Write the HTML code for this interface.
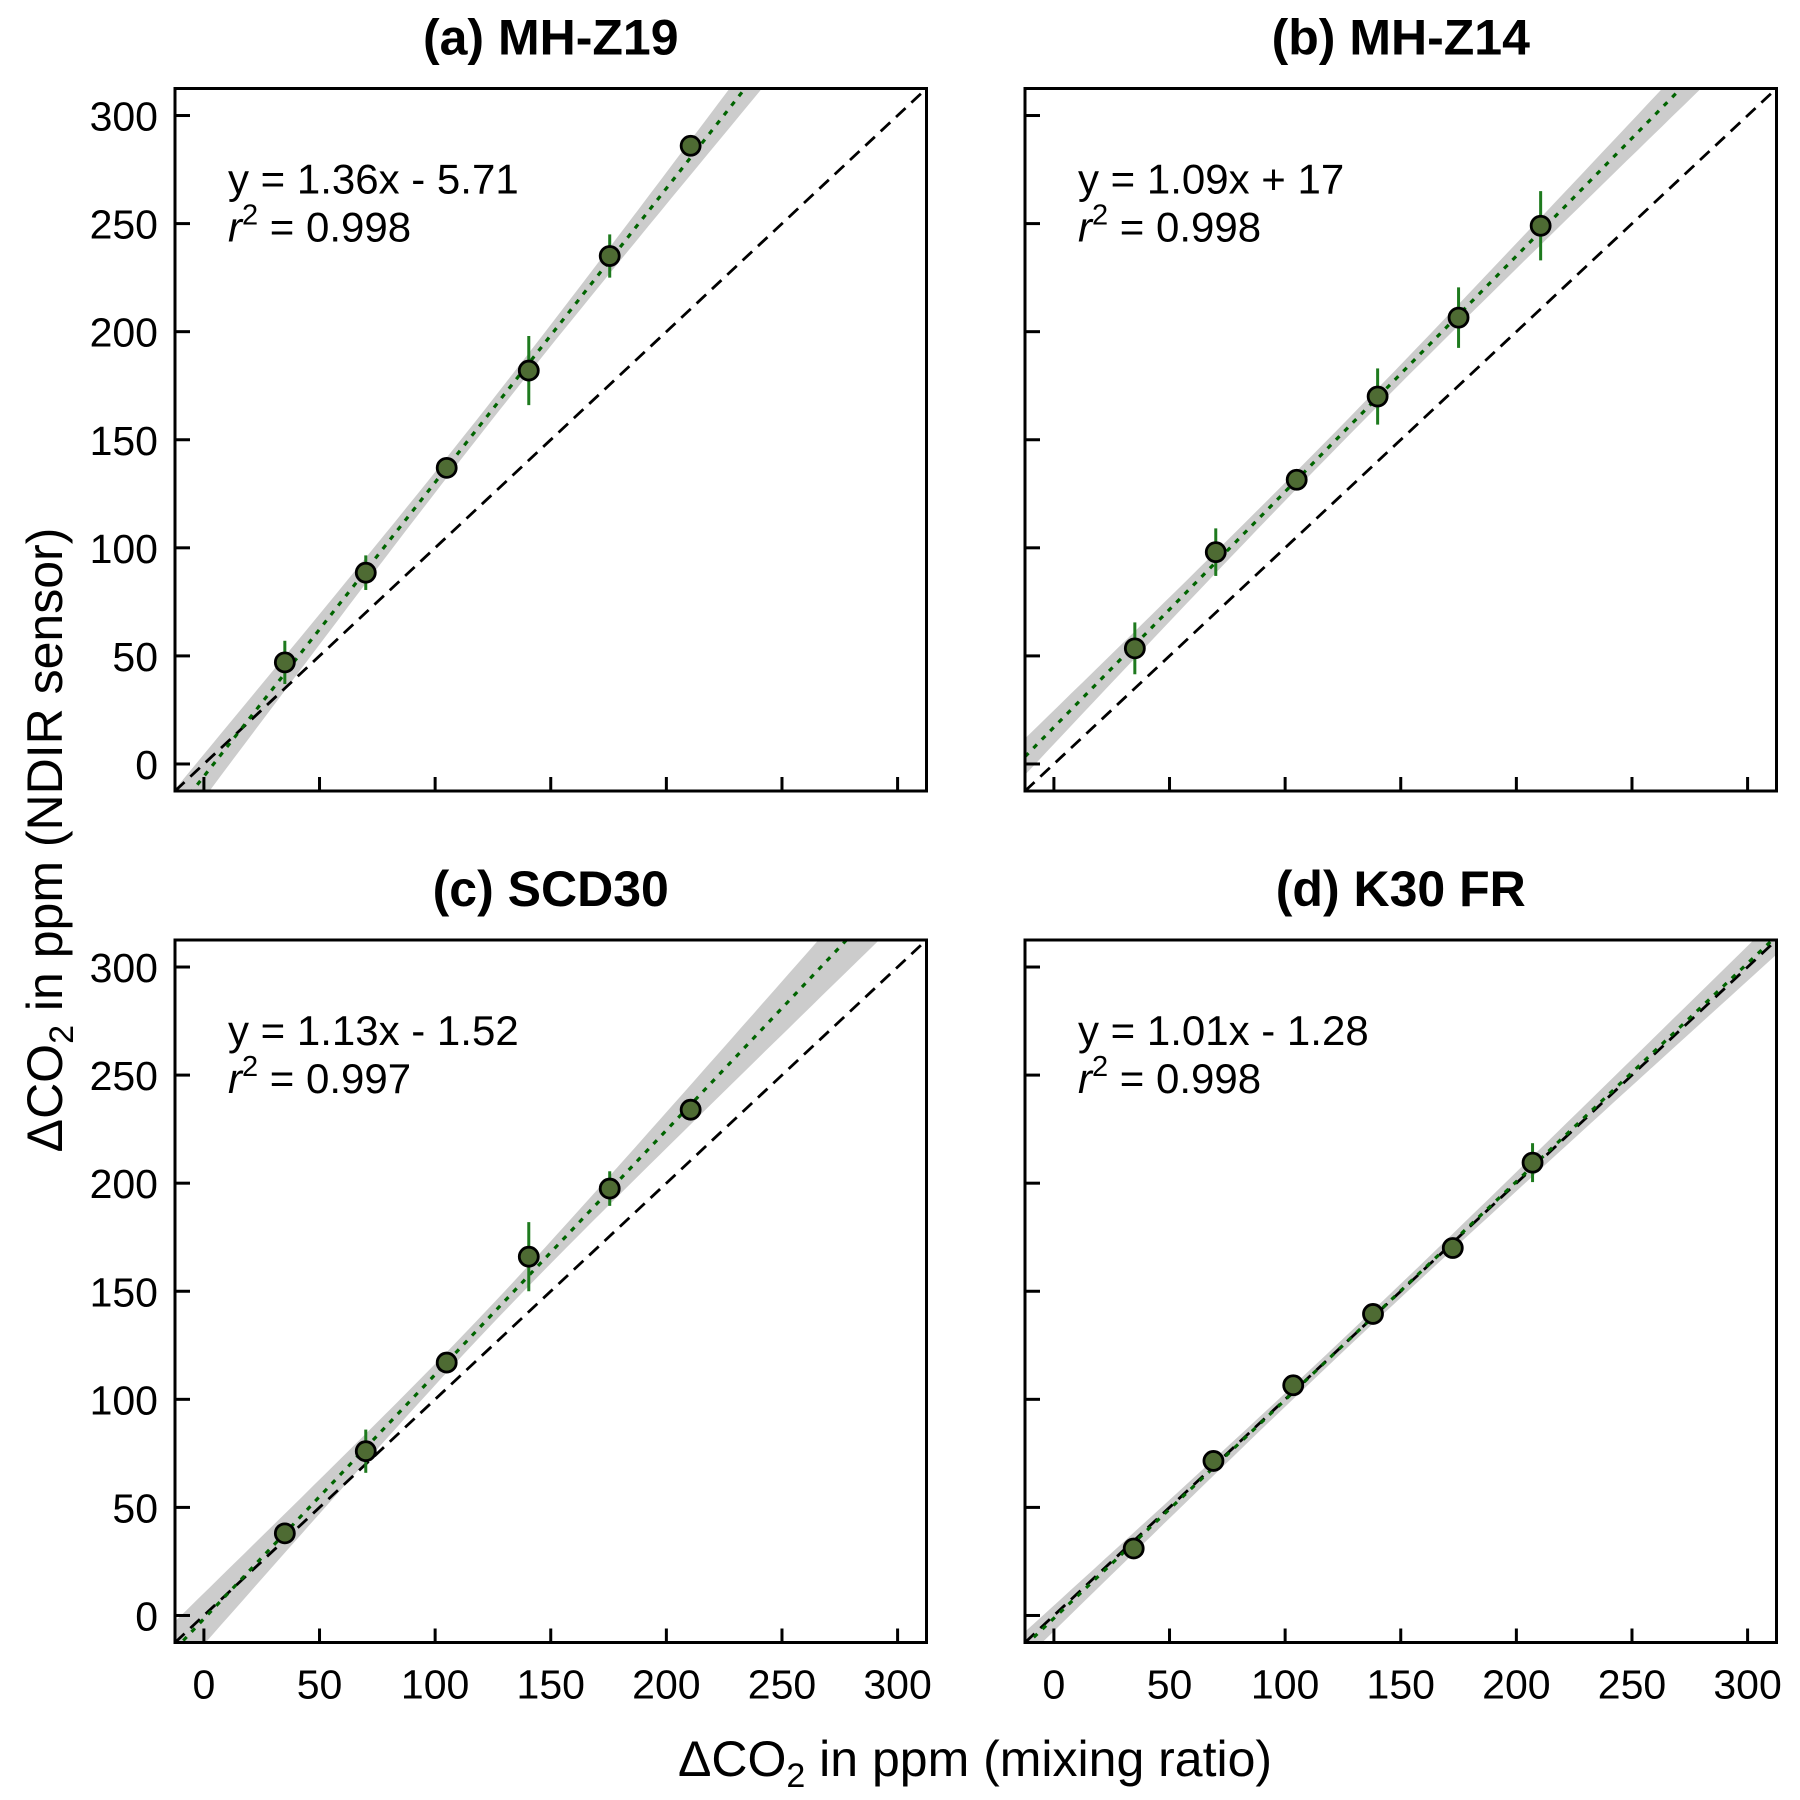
<!DOCTYPE html>
<html><head><meta charset="utf-8"><title>NDIR sensor calibration</title>
<style>
html,body{margin:0;padding:0;background:#fff;}
svg{display:block;font-family:"Liberation Sans",Arial,sans-serif;}
</style></head>
<body>
<svg id="chart" width="1800" height="1800" viewBox="0 0 1800 1800" xmlns="http://www.w3.org/2000/svg">
  <text x="975" y="1776" font-size="50" text-anchor="middle">ΔCO<tspan font-size="34" dy="11">2</tspan><tspan dy="-11"> in ppm (mixing ratio)</tspan></text>
  <text transform="translate(62,840) rotate(-90)" font-size="50" text-anchor="middle">ΔCO<tspan font-size="34" dy="11">2</tspan><tspan dy="-11"> in ppm (NDIR sensor)</tspan></text>
</svg>
<script>
// ---- data ----
const panelTitles = ["(a) MH-Z19", "(b) MH-Z14", "(c) SCD30", "(d) K30 FR"];
const eqLabels = ["y = 1.36x - 5.71", "y = 1.09x + 17", "y = 1.13x - 1.52", "y = 1.01x - 1.28"];
const r2Labels = ["0.998", "0.998", "0.997", "0.998"];
const slopes = [1.36, 1.09, 1.13, 1.01];
const intercepts = [-5.71, 17, -1.52, -1.28];
const xA = [35, 70, 105, 140.5, 175.5, 210.5];
const yA = [47, 88.5, 137, 182, 235, 286];
const eA = [10, 8, 3, 16, 10, 3];
const xB = [35, 70, 105, 140, 175, 210.5];
const yB = [53.5, 98, 131.5, 170, 206.5, 249];
const eB = [12, 11, 3, 13, 14, 16];
const xC = [35, 70, 105, 140.5, 175.5, 210.5];
const yC = [38, 76, 117, 166, 197.5, 234];
const eC = [3, 10, 3, 16, 8, 3];
const xD = [34.5, 69, 103.5, 138, 172.5, 207];
const yD = [31, 71.5, 106.5, 139.5, 170, 209.5];
const eD = [2, 2, 2, 2, 2, 9];
const bandCore = [4.5, 4, 4.5, 3];
const bandGrowth = [0.075, 0.055, 0.09, 0.042];
const tickVals = [0, 50, 100, 150, 200, 250, 300];

const xs = [xA, xB, xC, xD], ys = [yA, yB, yC, yD], es = [eA, eB, eC, eD];
const NS = "http://www.w3.org/2000/svg";
const svg = document.getElementById("chart");
function mk(tag, attrs, parent) {
  const el = document.createElementNS(NS, tag);
  for (const k in attrs) el.setAttribute(k, attrs[k]);
  (parent || svg).appendChild(el);
  return el;
}
const lefts = [175, 1025, 175, 1025], tops = [88.5, 88.5, 940, 940];
const W = 751.5, H = 702.5, DMIN = -12.5, DMAX = 312.5;

for (let p = 0; p < 4; p++) {
  const L = lefts[p], T = tops[p];
  const sx = v => L + (v - DMIN) / (DMAX - DMIN) * W;
  const sy = v => T + H - (v - DMIN) / (DMAX - DMIN) * H;
  const g = mk("g", {});
  
  
  const cp = mk("clipPath", {id: "clip" + p}, g);
  mk("rect", {x: L, y: T, width: W, height: H}, cp);
  const plot = mk("g", {"clip-path": "url(#clip" + p + ")"}, g);
  const xm = 122, up = [], lo = [];
  for (let v = DMIN; v <= DMAX + 0.1; v += 5) {
    const yv = slopes[p] * v + intercepts[p];
    const h = Math.sqrt(bandCore[p] ** 2 + (bandGrowth[p] * (v - xm)) ** 2);
    up.push(sx(v).toFixed(1) + "," + sy(yv + h).toFixed(1));
    lo.unshift(sx(v).toFixed(1) + "," + sy(yv - h).toFixed(1));
  }
  const band = mk("polygon", {points: up.concat(lo).join(" "), fill: "#cccccc"}, plot);
  
  
  const one = mk("line", {x1: sx(DMIN), y1: sy(DMIN), x2: sx(DMAX), y2: sy(DMAX), stroke: "#000", "stroke-width": 2.8, "stroke-dasharray": "13,8"}, plot);
  
  
  const reg = mk("line", {x1: sx(DMIN), y1: sy(slopes[p] * DMIN + intercepts[p]), x2: sx(DMAX), y2: sy(slopes[p] * DMAX + intercepts[p]), stroke: "#006400", "stroke-width": 3.2, "stroke-dasharray": "5,7"}, plot);
  
  
  for (let i = 0; i < xs[p].length; i++) {
    const cx = sx(xs[p][i]), cy = sy(ys[p][i]);
    const eb = mk("line", {x1: cx, x2: cx, y1: sy(ys[p][i] + es[p][i]), y2: sy(ys[p][i] - es[p][i]), stroke: "#1e7a1e", "stroke-width": 3}, plot);
    
    
    const c = mk("circle", {cx: cx, cy: cy, r: 9.5, fill: "#4e6b33", stroke: "#000", "stroke-width": 2.8}, plot);
    
    
  }
  const fr = mk("rect", {x: L, y: T, width: W, height: H, fill: "none", stroke: "#000", "stroke-width": 3}, g);
  
  
  for (const t of tickVals) {
    const tx = mk("line", {x1: sx(t), x2: sx(t), y1: T + H, y2: T + H - 14, stroke: "#000", "stroke-width": 3}, g);
    
    
    const ty = mk("line", {x1: L, x2: L + 15, y1: sy(t), y2: sy(t), stroke: "#000", "stroke-width": 3}, g);
    
    
    if (p >= 2) {
      const lx = mk("text", {x: sx(t), y: T + H + 56, "font-size": 41, "text-anchor": "middle"}, g);
      lx.textContent = t;
      
      
    }
    if (p % 2 === 0) {
      const ly = mk("text", {x: L - 17, y: sy(t) + 15, "font-size": 41, "text-anchor": "end"}, g);
      ly.textContent = t;
      
      
    }
  }
  const tt = mk("text", {x: L + W / 2, y: T - 34, "font-size": 50, "font-weight": "bold", "text-anchor": "middle"}, g);
  tt.textContent = panelTitles[p];
  
  
  const eq = mk("text", {x: L + 53, y: T + 105, "font-size": 42}, g);
  eq.textContent = eqLabels[p];
  
  
  const r2 = mk("text", {x: L + 53, y: T + 153, "font-size": 42}, g);
  r2.innerHTML = '<tspan font-style="italic">r</tspan><tspan font-size="29" dy="-17">2</tspan><tspan dy="17"> = ' + r2Labels[p] + '</tspan>';
  
  
}
</script>
</body></html>
